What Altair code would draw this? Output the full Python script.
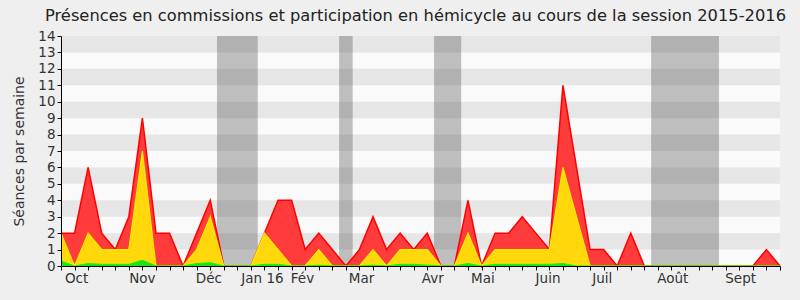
import altair as alt
import pandas as pd

# weekly values, week 0 = last week of Sept 2015
weeks = list(range(54))
total = [2, 2, 6, 2, 1, 3, 9, 2, 2, 0, 2, 4, 0, 0, 0, 2, 4, 4, 1, 2,
         1, 0, 1, 3, 1, 2, 1, 2, 0, 0, 4, 0, 2, 2, 3, 2, 1, 11, 6, 1,
         1, 0, 2, 0, 0, 0, 0, 0, 0, 0, 0, 0, 1, 0]
commission = [2, 0, 2, 1, 1, 1, 7, 0, 0, 0, 1, 3, 0, 0, 0, 2, 1, 0, 0, 1,
              0, 0, 0, 1, 0, 1, 1, 1, 0, 0, 2, 0, 1, 1, 1, 1, 1, 6, 3, 0,
              0, 0, 0, 0, 0, 0, 0, 0, 0, 0, 0, 0, 0, 0]
interventions = [0.3, 0, 0.15, 0.1, 0.1, 0.1, 0.35, 0, 0, 0, 0.15, 0.2, 0, 0, 0, 0.1, 0.1, 0, 0, 0.05,
                 0, 0, 0, 0.05, 0, 0.1, 0.1, 0.05, 0, 0, 0.15, 0, 0.1, 0.1, 0.1, 0.1, 0.1, 0.15, 0, 0,
                 0, 0, 0, 0, 0, 0, 0, 0, 0, 0, 0, 0, 0, 0]

vac_start = [11.5, 20.5, 27.5, 43.5]
vac_end = [14.5, 21.5, 29.5, 48.5]

month_labels = ["Oct", "Nov", "Déc", "Jan 16", "Fév", "Mar", "Avr", "Mai", "Juin", "Juil", "Août", "Sept"]
month_pos = [1.15, 6.0, 10.9, 14.85, 17.8, 22.15, 27.4, 31.1, 35.9, 39.9, 45.1, 50.1]

stripe_lo = [1, 3, 5, 7, 9, 11, 13]
y_ticks = list(range(15))

W, H = 719, 230
FONT = "DejaVu Sans"

df = pd.DataFrame({"week": weeks, "total": total, "comm": commission, "inter": interventions})
vac = pd.DataFrame({"s": vac_start, "e": vac_end})
months = pd.DataFrame({"pos": month_pos, "label": month_labels})
stripes_df = pd.DataFrame({"lo": stripe_lo})

xs = alt.Scale(domain=[0, 53], nice=False, zero=False)
ys = alt.Scale(domain=[0, 14], nice=False)

x_axis = alt.Axis(values=weeks, labels=False, ticks=True, tickSize=4, tickColor="#000",
                  domainColor="#000", grid=False, title=None, zindex=1)
y_axis = alt.Axis(values=y_ticks, tickSize=4, tickColor="#000", domainColor="#000", grid=False,
                  labelFont=FONT, labelFontSize=13.5, labelColor="#333", labelPadding=2,
                  title="Séances par semaine", titleFont=FONT, titleFontSize=14,
                  titleFontWeight="normal", titleColor="#333", titlePadding=11, zindex=1)

plotbg = alt.Chart(pd.DataFrame({"k": [0]})).mark_rect(fill="#fafafa").encode(
    x=alt.value(0), x2=alt.value(W), y=alt.value(0), y2=alt.value(H))

stripes = alt.Chart(stripes_df).transform_calculate(hi="datum.lo + 1").mark_rect(
    color="#e6e6e6"
).encode(
    x=alt.value(0), x2=alt.value(W),
    y=alt.Y("lo:Q", scale=ys, axis=y_axis), y2="hi:Q"
)

vacations = alt.Chart(vac).mark_rect(color="#464646", opacity=0.33).encode(
    x=alt.X("s:Q", scale=xs, axis=x_axis), x2="e:Q",
    y=alt.value(0), y2=alt.value(H)
)

base = alt.Chart(df).encode(x=alt.X("week:Q", scale=xs, axis=x_axis))

red_area = base.mark_area(color="#ff3b3b", opacity=1).encode(y=alt.Y("total:Q", scale=ys, axis=y_axis))
red_line = base.mark_line(color="#ff0000", strokeWidth=1.5).encode(y=alt.Y("total:Q", scale=ys, axis=y_axis))
yel_area = base.mark_area(color="#ffd70a", opacity=1).encode(y=alt.Y("comm:Q", scale=ys, axis=y_axis))
yel_line = base.mark_line(color="#ffee00", strokeWidth=1.2).encode(y=alt.Y("comm:Q", scale=ys, axis=y_axis))
grn_area = base.mark_area(color="#22dd22", opacity=1).encode(y=alt.Y("inter:Q", scale=ys, axis=y_axis))
grn_line = base.mark_line(color="#00ff00", strokeWidth=1).encode(y=alt.Y("inter:Q", scale=ys, axis=y_axis))

month_text = alt.Chart(months).mark_text(
    font=FONT, fontSize=13.5, color="#333", baseline="middle", align="center"
).encode(
    x=alt.X("pos:Q", scale=xs, axis=x_axis), y=alt.value(H + 13), text="label:N"
)

chart = alt.layer(
    plotbg, stripes, vacations,
    red_area, red_line, yel_area, yel_line, grn_area, grn_line, month_text
).properties(
    width=W, height=H,
    title=alt.TitleParams(
        "Présences en commissions et participation en hémicycle au cours de la session 2015-2016",
        font=FONT, fontSize=16.3, fontWeight="normal", color="#222", anchor="middle", offset=5, dx=-5
    ),
    autosize=alt.AutoSizeParams(type="none"),
    padding={"left": 61, "top": 36, "right": 20, "bottom": 34},
    background="#efefef",
).configure_view(strokeWidth=0)

chart.save("out.html", embed_options={"renderer": "svg", "actions": False})
